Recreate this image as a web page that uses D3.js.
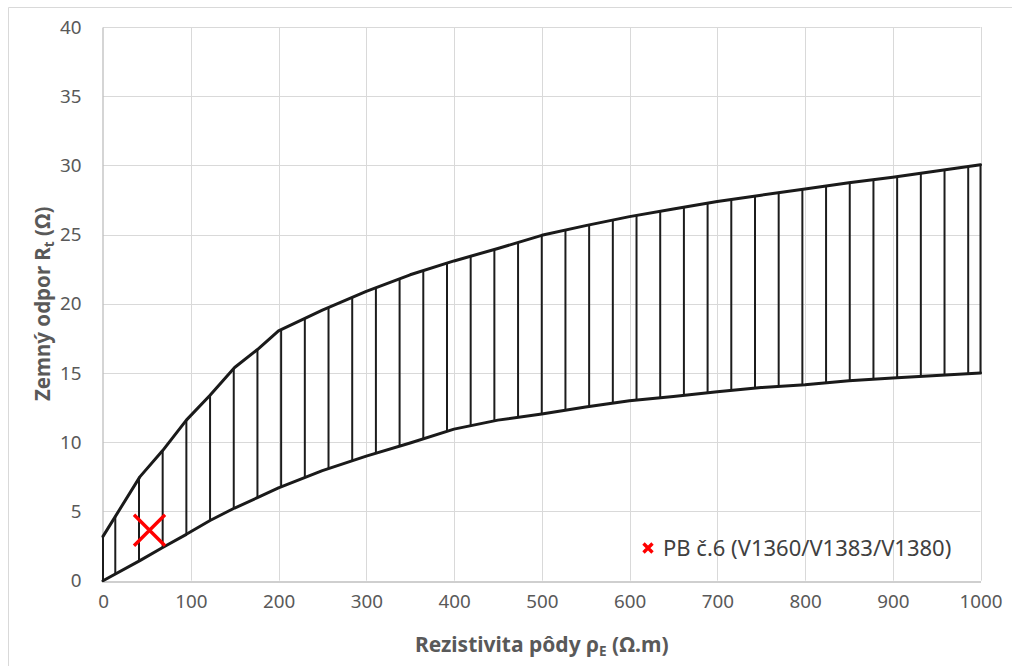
<!DOCTYPE html>
<html>
<head>
<meta charset="utf-8">
<script src="https://cdn.jsdelivr.net/npm/d3@7"></script>
<style>
  html, body { margin: 0; padding: 0; background: #fff; }
  svg { display: block; font-family: "Noto Sans", "Open Sans", sans-serif; }
</style>
</head>
<body>
<svg id="chart" width="1012" height="666"></svg>
<script>
// ---- data ----
const resistivity = [0, 42, 68, 95, 122, 150, 176, 200, 250, 300, 350, 400, 450, 500, 550, 600, 650, 700, 750, 800, 850, 900, 950, 1000];
const upperR = [3.2, 7.5, 9.4, 11.6, 13.4, 15.4, 16.7, 18.05, 19.55, 20.9, 22.1, 23.1, 24.0, 24.95, 25.65, 26.3, 26.85, 27.4, 27.85, 28.3, 28.75, 29.15, 29.6, 30.05];
const lowerR = [0, 1.45, 2.4, 3.35, 4.35, 5.25, 6.0, 6.7, 7.95, 9.0, 9.95, 10.95, 11.6, 12.05, 12.55, 13.0, 13.3, 13.65, 13.95, 14.15, 14.45, 14.65, 14.82, 15.0];
const hatchX = [0, 14, 41, 68, 95, 122, 149, 176, 203, 230, 257, 284, 311, 338, 365, 392, 419, 446, 473, 500, 527, 554, 581, 608, 635, 662, 689, 716, 743, 770, 797, 824, 851, 878, 905, 932, 959, 986, 1000];
const measuredX = [53];
const measuredY = [3.65];
const seriesName = "PB č.6 (V1360/V1383/V1380)";
const xTicks = [0, 100, 200, 300, 400, 500, 600, 700, 800, 900, 1000];
const yTicks = [0, 5, 10, 15, 20, 25, 30, 35, 40];

// ---- layout ----
const svg = d3.select("#chart");
const x = d3.scaleLinear().domain([0, 1000]).range([103, 980.5]);
const y = d3.scaleLinear().domain([0, 40]).range([580.7, 27]);

// outer chart border (partially visible)
svg.append("path").attr("d", "M8.5,666 V7.5 H1012").attr("fill", "none").attr("stroke", "#d9d9d9").attr("stroke-width", 1);

// gridlines
const grid = svg.append("g");
grid.selectAll("line.h").data(yTicks.filter(d => d > 0)).join("line")
  .attr("x1", x(0)).attr("x2", x(1000))
  .attr("y1", d => Math.round(y(d)) + 0.5).attr("y2", d => Math.round(y(d)) + 0.5)
  .attr("stroke", "#d9d9d9").attr("stroke-width", 1);
grid.selectAll("line.v").data(xTicks.filter(d => d > 0)).join("line")
  .attr("y1", y(0)).attr("y2", y(40))
  .attr("x1", d => Math.round(x(d)) + 0.5).attr("x2", d => Math.round(x(d)) + 0.5)
  .attr("stroke", "#d9d9d9").attr("stroke-width", 1);

// axes
const xAxis = svg.append("g").attr("transform", `translate(0,${Math.round(y(0)) + 0.5})`)
  .call(d3.axisBottom(x).tickValues(xTicks).tickSize(0).tickPadding(13).tickFormat(d3.format("d")));
const yAxis = svg.append("g").attr("transform", `translate(${Math.round(x(0)) - 0.5},0)`)
  .call(d3.axisLeft(y).tickValues(yTicks).tickSize(0).tickPadding(21).tickFormat(d3.format("d")));
[xAxis, yAxis].forEach(a => {
  a.select(".domain").attr("stroke", "#bfbfbf").attr("stroke-width", 1.3);
  a.selectAll("text").attr("fill", "#595959").style("font-size", "18.8px").style("font-family", "'Noto Sans', sans-serif");
});

// data helpers
function interp(xs, ys, v) {
  const i = Math.min(Math.max(d3.bisectRight(xs, v), 1), xs.length - 1);
  const t = (v - xs[i - 1]) / (xs[i] - xs[i - 1]);
  return ys[i - 1] + t * (ys[i] - ys[i - 1]);
}

// hatch lines
svg.append("g").selectAll("line").data(hatchX).join("line")
  .attr("x1", d => x(d)).attr("x2", d => x(d))
  .attr("y1", d => y(interp(resistivity, lowerR, d)))
  .attr("y2", d => y(interp(resistivity, upperR, d)))
  .attr("stroke", "#1c1c1c").attr("stroke-width", 2);

// boundary curves
const line = d3.line().x(d => x(d[0])).y(d => y(d[1]));
[upperR, lowerR].forEach(vals => {
  svg.append("path").datum(resistivity.map((r, i) => [r, vals[i]]))
    .attr("d", line).attr("fill", "none").attr("stroke", "#1a1a1a")
    .attr("stroke-width", 3).attr("stroke-linejoin", "round").attr("stroke-linecap", "round");
});

// measured point (red X)
function cross(g, cx, cy, r, w) {
  g.append("path")
    .attr("d", `M${cx - r},${cy - r}L${cx + r},${cy + r}M${cx - r},${cy + r}L${cx + r},${cy - r}`)
    .attr("stroke", "#ff0000").attr("stroke-width", w).attr("fill", "none");
}
measuredX.forEach((mx, i) => cross(svg, x(mx), y(measuredY[i]), 15.5, 3.4));

// legend
const lg = svg.append("g");
cross(lg, 648, 548, 4.5, 3.4);
lg.append("text").attr("x", 663).attr("y", 556).attr("fill", "#404040")
  .style("font-size", "22px").text(seriesName);

// axis titles
const xt = svg.append("text").attr("x", (x(0) + x(1000)) / 2).attr("y", 652)
  .attr("text-anchor", "middle").attr("fill", "#595959")
  .style("font-size", "21px").style("font-weight", "bold");
xt.append("tspan").text("Rezistivita pôdy ρ");
xt.append("tspan").attr("dy", 4).style("font-size", "13.5px").text("E");
xt.append("tspan").attr("dy", -4).text(" (Ω.m)");

const yt = svg.append("text").attr("transform", `translate(50,${(y(0) + y(40)) / 2}) rotate(-90)`)
  .attr("text-anchor", "middle").attr("fill", "#595959")
  .style("font-size", "20.5px").style("font-weight", "bold");
yt.append("tspan").text("Zemný odpor R");
yt.append("tspan").attr("dy", 4).style("font-size", "13.5px").text("t");
yt.append("tspan").attr("dy", -4).text(" (Ω)");
</script>
</body>
</html>
